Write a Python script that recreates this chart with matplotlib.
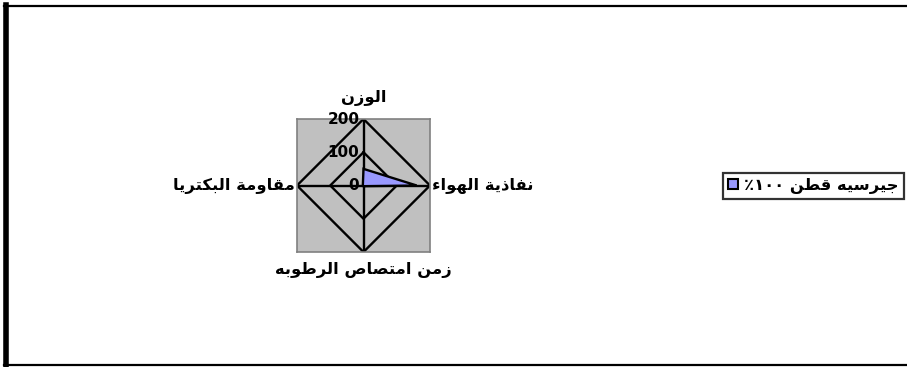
import re
import numpy as np
import matplotlib
matplotlib.use("Agg")
import matplotlib.pyplot as plt
from matplotlib.lines import Line2D
from matplotlib.patches import Patch

# ---------------- data ----------------
CATEGORIES = ["الوزن", "نفاذية الهواء", "زمن امتصاص الرطوبه", "مقاومة البكتريا"]
SERIES_NAME = "جيرسيه قطن ١٠٠٪"
SERIES_VALUES = [50, 160, 2, 2]
RINGS = [100, 200]
TICK_LABELS = ["0", "100", "200"]
R_MAX = 200

# ---------------- arabic shaping (matplotlib has no bidi) ----------------
FORMS = {
    "ا": (0xFE8D, 0xFE8E, None, None), "ب": (0xFE8F, 0xFE90, 0xFE91, 0xFE92),
    "ة": (0xFE93, 0xFE94, None, None), "ت": (0xFE95, 0xFE96, 0xFE97, 0xFE98),
    "ج": (0xFE9D, 0xFE9E, 0xFE9F, 0xFEA0), "ذ": (0xFEAB, 0xFEAC, None, None),
    "ر": (0xFEAD, 0xFEAE, None, None), "ز": (0xFEAF, 0xFEB0, None, None),
    "س": (0xFEB1, 0xFEB2, 0xFEB3, 0xFEB4), "ص": (0xFEB9, 0xFEBA, 0xFEBB, 0xFEBC),
    "ط": (0xFEC1, 0xFEC2, 0xFEC3, 0xFEC4), "ف": (0xFED1, 0xFED2, 0xFED3, 0xFED4),
    "ق": (0xFED5, 0xFED6, 0xFED7, 0xFED8), "ك": (0xFED9, 0xFEDA, 0xFEDB, 0xFEDC),
    "ل": (0xFEDD, 0xFEDE, 0xFEDF, 0xFEE0), "م": (0xFEE1, 0xFEE2, 0xFEE3, 0xFEE4),
    "ن": (0xFEE5, 0xFEE6, 0xFEE7, 0xFEE8), "ه": (0xFEE9, 0xFEEA, 0xFEEB, 0xFEEC),
    "و": (0xFEED, 0xFEEE, None, None), "ي": (0xFEF1, 0xFEF2, 0xFEF3, 0xFEF4),
    "ء": (0xFE80, None, None, None),
}


def joins_next(c):
    return c in FORMS and FORMS[c][2] is not None


def joins_prev(c):
    return c in FORMS and FORMS[c][1] is not None


def rtl(text):
    out = []
    for i, c in enumerate(text):
        if c not in FORMS:
            out.append(c)
            continue
        prev = text[i - 1] if i > 0 else ""
        nxt = text[i + 1] if i + 1 < len(text) else ""
        p = joins_next(prev) and joins_prev(c)
        n = joins_next(c) and joins_prev(nxt)
        iso, fin, ini, med = FORMS[c]
        code = med if (p and n) else fin if p else ini if n else iso
        out.append(chr(code))
    vis = "".join(out)[::-1]
    # digit runs stay left-to-right
    return re.sub(r"[0-9\u0660-\u0669]+", lambda m: m.group(0)[::-1], vis)


plt.rcParams["font.family"] = ["DejaVu Sans"]
plt.rcParams["font.weight"] = "bold"

fig = plt.figure(figsize=(9.07, 3.67), dpi=100)
ax = fig.add_axes([297 / 907, 1 - 252 / 367, 133 / 907, 133 / 367])
ax.set_facecolor("#C0C0C0")
for s in ax.spines.values():
    s.set_color("#808080")
    s.set_linewidth(1.2)
ax.set_xlim(-R_MAX, R_MAX)
ax.set_ylim(-R_MAX, R_MAX)
ax.set_xticks([])
ax.set_yticks([])

n = len(CATEGORIES)
theta = 2 * np.pi * np.arange(n) / n
dx, dy = np.sin(theta), np.cos(theta)

# grid rings and spokes
for r in RINGS:
    ax.plot(np.append(r * dx, r * dx[0]), np.append(r * dy, r * dy[0]), color="black", lw=1.7, zorder=2)
for i in range(n):
    ax.plot([0, R_MAX * dx[i]], [0, R_MAX * dy[i]], color="black", lw=1.7, zorder=2)

# series
vals = np.array(SERIES_VALUES, dtype=float)
ax.fill(vals * dx, vals * dy, facecolor="#9999FF", edgecolor="black", lw=1.7, zorder=3)

# radial tick labels along the top spoke
for t in TICK_LABELS:
    ax.annotate(t, (0, float(t)), xytext=(-3, 0), textcoords="offset points",
                ha="right", va="center", fontsize=11, fontweight="bold", zorder=4)

# category labels
offsets = [(0, 15, "center", "center"), (1.5, 0, "left", "center"),
           (0, -13, "center", "center"), (-1.5, 0, "right", "center")]
for i, cat in enumerate(CATEGORIES):
    ox, oy, ha, va = offsets[i]
    ax.annotate(rtl(cat), (R_MAX * dx[i], R_MAX * dy[i]), xytext=(ox, oy), textcoords="offset points",
                ha=ha, va=va, fontsize=11.8, fontweight="bold", annotation_clip=False)

handle = Patch(facecolor="#9999FF", edgecolor="black", lw=1.5)
leg = fig.legend([handle], [rtl(SERIES_NAME)], loc="center left",
                 bbox_to_anchor=(723 / 907, 1 - 186 / 367), borderaxespad=0, frameon=True, fancybox=False,
                 handlelength=0.6, handleheight=0.6, handletextpad=0.4, borderpad=0.3,
                 prop={"size": 11.8, "weight": "bold"})
leg.get_frame().set_edgecolor("black")
leg.get_frame().set_linewidth(1.6)

# chart border
fig.add_artist(Line2D([5.5 / 907, 5.5 / 907], [0, 1 - 5 / 367], color="black", lw=4, transform=fig.transFigure))
fig.add_artist(Line2D([4 / 907, 1], [1 - 6 / 367, 1 - 6 / 367], color="black", lw=1.6, transform=fig.transFigure))
fig.add_artist(Line2D([4 / 907, 1], [1 - 365 / 367, 1 - 365 / 367], color="black", lw=1.6, transform=fig.transFigure))

fig.savefig("out.png", dpi=100)
